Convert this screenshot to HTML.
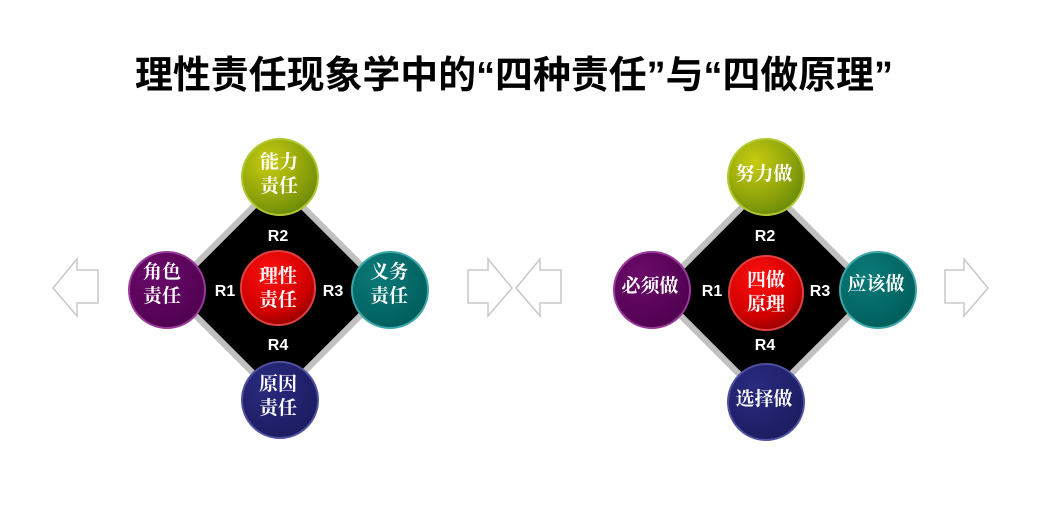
<!DOCTYPE html>
<html><head><meta charset="utf-8"><style>
html,body{margin:0;padding:0;background:#fff;width:1055px;height:527px;overflow:hidden}
svg text{font-family:"Liberation Sans","Noto Serif CJK SC","Noto Sans CJK SC",serif}
</style></head><body>
<svg width="1055" height="527" viewBox="0 0 1055 527" xmlns="http://www.w3.org/2000/svg">
<defs>
<radialGradient id="gy" cx="35%" cy="30%" r="75%"><stop offset="0" stop-color="#c8cc10"/><stop offset="0.7" stop-color="#8aa00a"/><stop offset="1" stop-color="#6a8a08"/></radialGradient>
<radialGradient id="gp" cx="35%" cy="30%" r="75%"><stop offset="0" stop-color="#6a0a6a"/><stop offset="1" stop-color="#500050"/></radialGradient>
<radialGradient id="gt" cx="35%" cy="30%" r="75%"><stop offset="0" stop-color="#0a7a78"/><stop offset="1" stop-color="#005e5c"/></radialGradient>
<radialGradient id="gb" cx="35%" cy="30%" r="75%"><stop offset="0" stop-color="#2a2a80"/><stop offset="1" stop-color="#1c1c60"/></radialGradient>
<radialGradient id="gr" cx="40%" cy="30%" r="75%"><stop offset="0" stop-color="#ff1010"/><stop offset="0.7" stop-color="#d00000"/><stop offset="1" stop-color="#900000"/></radialGradient>
</defs>
<text x="135" y="88" font-size="38" font-weight="bold" textLength="758" lengthAdjust="spacingAndGlyphs" style="font-family:'Liberation Sans','Noto Sans CJK SC',sans-serif">理性责任现象学中的“四种责任”与“四做原理”</text>

<g fill="#fff" stroke="#c8c8c8" stroke-width="1.5">
<polygon points="53,288 77,259 77,270 98,270 98,303 77,303 77,316"/>
<polygon points="512,288 488,259 488,270 468,270 468,303 488,303 488,316"/>
<polygon points="516,288 540,259 540,270 561,270 561,303 540,303 540,316"/>
<polygon points="988,288 964,259 964,270 945,270 945,303 964,303 964,316"/>
</g>

<g id="L">
<polygon points="278,182 386,290 278,398 170,290" fill="#000" stroke="#c0c0c0" stroke-width="6" stroke-linejoin="miter"/>
<g fill="#fff" font-weight="bold" font-size="16" text-anchor="middle" style="font-family:'Liberation Sans',sans-serif">
<text x="278" y="241">R2</text><text x="278" y="350">R4</text>
<text x="225" y="296">R1</text><text x="333" y="296">R3</text></g>
<circle cx="280" cy="177" r="38" fill="url(#gy)" stroke="#b0c830" stroke-width="2"/>
<circle cx="167" cy="290" r="38" fill="url(#gp)" stroke="#9a3a9a" stroke-width="2"/>
<circle cx="390" cy="290" r="38" fill="url(#gt)" stroke="#3aa8a8" stroke-width="2"/>
<circle cx="280" cy="400" r="38" fill="url(#gb)" stroke="#5050a0" stroke-width="2"/>
<circle cx="278" cy="288" r="37" fill="url(#gr)" stroke="#e04040" stroke-width="2"/>
<g fill="#fff" font-weight="bold" font-size="19" text-anchor="middle">
<text x="279" y="168">能力</text><text x="279" y="192">责任</text>
<text x="162" y="278">角色</text><text x="162" y="302">责任</text>
<text x="389" y="278">义务</text><text x="389" y="302">责任</text>
<text x="278" y="282">理性</text><text x="278" y="306">责任</text>
<text x="278" y="390">原因</text><text x="278" y="414">责任</text>
</g></g>

<g>
<polygon points="765,184 873,292 765,400 657,292" fill="#000" stroke="#c0c0c0" stroke-width="6"/>
<g fill="#fff" font-weight="bold" font-size="16" text-anchor="middle" style="font-family:'Liberation Sans',sans-serif">
<text x="765" y="241">R2</text><text x="765" y="350">R4</text>
<text x="712" y="296">R1</text><text x="820" y="296">R3</text></g>
<circle cx="766" cy="177" r="38" fill="url(#gy)" stroke="#b0c830" stroke-width="2"/>
<circle cx="652" cy="290" r="38" fill="url(#gp)" stroke="#9a3a9a" stroke-width="2"/>
<circle cx="878" cy="290" r="38" fill="url(#gt)" stroke="#3aa8a8" stroke-width="2"/>
<circle cx="766" cy="402" r="38" fill="url(#gb)" stroke="#5050a0" stroke-width="2"/>
<circle cx="766" cy="293" r="37" fill="url(#gr)" stroke="#e04040" stroke-width="2"/>
<g fill="#fff" font-weight="bold" font-size="19" text-anchor="middle">
<text x="764" y="180">努力做</text>
<text x="650" y="292">必须做</text>
<text x="876" y="290">应该做</text>
<text x="766" y="286">四做</text><text x="766" y="310">原理</text>
<text x="764" y="405">选择做</text>
</g></g>
</svg>
</body></html>
